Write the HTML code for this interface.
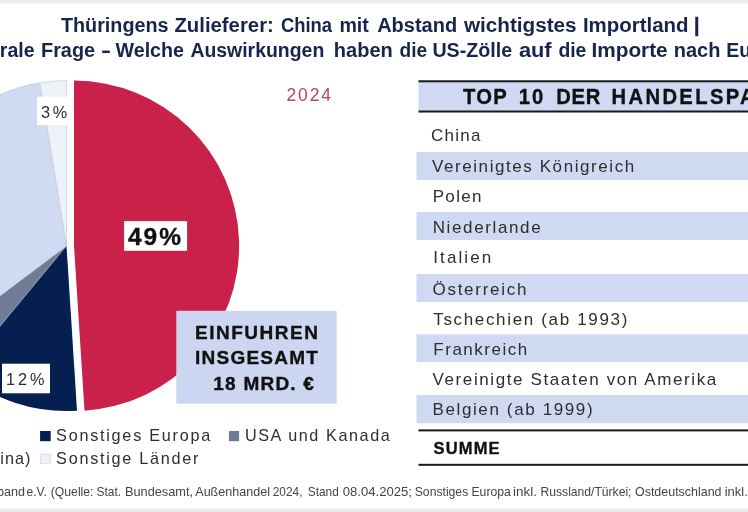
<!DOCTYPE html>
<html lang="de"><head><meta charset="utf-8"><title>Thüringens Zulieferer</title>
<style>
html,body{margin:0;padding:0;background:#fff;}
body{width:748px;height:512px;overflow:hidden;}
svg{display:block;font-family:"Liberation Sans",sans-serif;}
.t{font-weight:bold;fill:#15254b;font-size:19.5px;}
.r{fill:#2e2e2e;font-size:17px;}
.l{fill:#2e2e2e;font-size:16.2px;}
.f{fill:#444;font-size:12.1px;}
.b{font-weight:bold;fill:#111;stroke:#111;stroke-width:0.35px;}
</style></head><body>
<svg width="748" height="512" viewBox="0 0 748 512">
<rect x="0" y="0" width="748" height="512" fill="#ffffff"/>
<defs><linearGradient id="gt" x1="0" y1="0" x2="0" y2="1"><stop offset="0" stop-color="#ebebeb"/><stop offset="0.5" stop-color="#ebebeb"/><stop offset="1" stop-color="#ffffff"/></linearGradient>
<linearGradient id="gb" x1="0" y1="0" x2="0" y2="1"><stop offset="0" stop-color="#ffffff"/><stop offset="0.45" stop-color="#ebebeb"/><stop offset="1" stop-color="#ebebeb"/></linearGradient></defs>
<rect x="0" y="0" width="748" height="4.4" fill="url(#gt)"/>
<rect x="0" y="507.4" width="748" height="4.6" fill="url(#gb)"/>

<text class="t" y="31.6"><tspan x="60.90" textLength="107.70" lengthAdjust="spacingAndGlyphs">Thüringens</tspan> <tspan x="174.40" textLength="99.45" lengthAdjust="spacingAndGlyphs">Zulieferer:</tspan> <tspan x="280.90" textLength="51.20" lengthAdjust="spacingAndGlyphs">China</tspan> <tspan x="339.40" textLength="29.45" lengthAdjust="spacingAndGlyphs">mit</tspan> <tspan x="377.15" textLength="79.95" lengthAdjust="spacingAndGlyphs">Abstand</tspan> <tspan x="463.90" textLength="112.70" lengthAdjust="spacingAndGlyphs">wichtigstes</tspan> <tspan x="582.90" textLength="105.70" lengthAdjust="spacingAndGlyphs">Importland</tspan></text>
<text class="t" x="694.0" y="32.4" font-size="22px" stroke="#15254b" stroke-width="0.5">|</text>
<text class="t" y="56.6"><tspan x="-41.30">Zentrale</tspan> <tspan x="41.00" textLength="54.10" lengthAdjust="spacingAndGlyphs">Frage</tspan> <tspan x="101.10" textLength="10.00" lengthAdjust="spacingAndGlyphs">-</tspan> <tspan x="115.50" textLength="68.50" lengthAdjust="spacingAndGlyphs">Welche</tspan> <tspan x="190.40" textLength="133.90" lengthAdjust="spacingAndGlyphs">Auswirkungen</tspan> <tspan x="333.80" textLength="59.00" lengthAdjust="spacingAndGlyphs">haben</tspan> <tspan x="399.60" textLength="27.70" lengthAdjust="spacingAndGlyphs">die</tspan> <tspan x="432.40" textLength="79.80" lengthAdjust="spacingAndGlyphs">US-Zölle</tspan> <tspan x="518.90" textLength="32.70" lengthAdjust="spacingAndGlyphs">auf</tspan> <tspan x="558.40" textLength="28.00" lengthAdjust="spacingAndGlyphs">die</tspan> <tspan x="591.50" textLength="76.10" lengthAdjust="spacingAndGlyphs">Importe</tspan> <tspan x="673.70" textLength="46.70" lengthAdjust="spacingAndGlyphs">nach</tspan> <tspan x="726.20">Europa?</tspan></text>
<g>
<path d="M66.50 245.80 L77.02 410.66 A165.2 165.2 0 0 1 -38.80 373.09 Z" fill="#061f51" />
<path d="M66.50 245.80 L-38.80 373.09 A165.2 165.2 0 0 1 -65.52 345.10 Z" fill="#6e7c96" stroke="#aab4cc" stroke-width="0.5"/>
<path d="M66.50 245.80 L-65.52 345.10 A165.2 165.2 0 0 1 39.80 82.77 Z" fill="#d0daf2" stroke="#c3c9d8" stroke-width="0.7"/>
<path d="M66.50 245.80 L39.80 82.77 A165.2 165.2 0 0 1 66.50 80.60 Z" fill="#edf1f9" stroke="#c9ccd3" stroke-width="0.7"/>
<path d="M74.00 245.80 L74.00 80.60 A165.2 165.2 0 0 1 84.52 410.66 Z" fill="#c9214a" />
</g>
<text x="286.5" y="101.4" font-size="17.5px" fill="#b3446a" textLength="44.5" lengthAdjust="spacing">2024</text>
<rect x="37" y="96.7" width="33.2" height="28.4" fill="#fff"/>
<text x="40.9" y="117.6" font-size="16.3px" fill="#2e2e2e" textLength="26.4" lengthAdjust="spacing">3%</text>
<rect x="124.1" y="221.1" width="63" height="29.7" fill="#fff"/>
<text class="b" x="128.0" y="244.9" font-size="24.5px" stroke-width="0.15" textLength="53" lengthAdjust="spacing">49%</text>
<rect x="2" y="363.7" width="48" height="29.6" fill="#fff"/>
<text x="6.1" y="385.2" font-size="16.3px" fill="#2e2e2e" textLength="38.3" lengthAdjust="spacing">12%</text>
<rect x="176.3" y="310.8" width="160.4" height="92.9" fill="#ccd6f0"/>
<text class="b" x="195" y="338.5" font-size="19px" textLength="122.9" lengthAdjust="spacing">EINFUHREN</text>
<text class="b" x="195" y="364" font-size="19px" textLength="122.9" lengthAdjust="spacing">INSGESAMT</text>
<text class="b" x="213.3" y="389.9" font-size="19px" textLength="100.6" lengthAdjust="spacing">18 MRD. €</text>
<rect x="40.1" y="431" width="10.6" height="10.2" fill="#061f51"/>
<text class="l" x="56.1" y="441.2" textLength="154.1" lengthAdjust="spacing">Sonstiges Europa</text>
<rect x="228.9" y="431" width="10.2" height="10.2" fill="#6e7c96"/>
<text class="l" x="244.9" y="441.2" textLength="144.9" lengthAdjust="spacing">USA und Kanada</text>
<text class="l" x="-22.4" y="463.7" letter-spacing="1.0">China)</text>
<rect x="40.4" y="454" width="10.2" height="9.6" fill="#edf1f9" stroke="#d4d7de" stroke-width="0.7"/>
<text class="l" x="56.1" y="463.7" textLength="142.3" lengthAdjust="spacing">Sonstige Länder</text>
<rect x="418.5" y="80.5" width="330" height="32" fill="#d0d9f2"/>
<rect x="418.5" y="80.3" width="330" height="2" fill="#1a1a1a"/>
<rect x="418.5" y="110.5" width="330" height="2" fill="#1a1a1a"/>
<g transform="scale(0.94 1)"><text class="b" y="104" font-size="21.5px"><tspan x="492.55" textLength="46.49" lengthAdjust="spacing">TOP</tspan> <tspan x="551.91" textLength="25.96" lengthAdjust="spacing">10</tspan> <tspan x="591.81" textLength="46.91" lengthAdjust="spacing">DER</tspan> <tspan x="650.64" textLength="238.72" lengthAdjust="spacing">HANDELSPARTNER</tspan></text></g>
<text class="r" x="431.0" y="141.2" textLength="49.5" lengthAdjust="spacing">China</text>
<rect x="416.5" y="152" width="332" height="28.0" fill="#d0d9f2"/>
<text class="r" x="432.0" y="172.1" textLength="202.2" lengthAdjust="spacing">Vereinigtes Königreich</text>
<text class="r" x="432.7" y="202.1" textLength="48.8" lengthAdjust="spacing">Polen</text>
<rect x="416.5" y="212" width="332" height="28.0" fill="#d0d9f2"/>
<text class="r" x="432.7" y="232.6" textLength="107.9" lengthAdjust="spacing">Niederlande</text>
<text class="r" x="433.3" y="263.3" textLength="57.9" lengthAdjust="spacing">Italien</text>
<rect x="416.5" y="274" width="332" height="28.0" fill="#d0d9f2"/>
<text class="r" x="432.5" y="294.5" textLength="93.9" lengthAdjust="spacing">Österreich</text>
<text class="r" x="433.3" y="324.9" textLength="194.0" lengthAdjust="spacing">Tschechien (ab 1993)</text>
<rect x="416.5" y="334.3" width="332" height="27.7" fill="#d0d9f2"/>
<text class="r" x="433.3" y="354.5" textLength="94.0" lengthAdjust="spacing">Frankreich</text>
<text class="r" x="432.5" y="385.3" textLength="283.8" lengthAdjust="spacing">Vereinigte Staaten von Amerika</text>
<rect x="416.5" y="395" width="332" height="28.3" fill="#d0d9f2"/>
<text class="r" x="432.5" y="415.0" textLength="160.1" lengthAdjust="spacing">Belgien (ab 1999)</text>
<rect x="418.5" y="429.4" width="330" height="2" fill="#1a1a1a"/>
<rect x="418.5" y="463.8" width="330" height="2" fill="#1a1a1a"/>
<text class="b" x="433.6" y="453.8" font-size="16.5px" textLength="66" lengthAdjust="spacing">SUMME</text>
<text class="f" y="496.3"><tspan x="-3.00" textLength="28.00" lengthAdjust="spacingAndGlyphs">band</tspan> <tspan x="26.50" textLength="20.25" lengthAdjust="spacingAndGlyphs">e.V.</tspan> <tspan x="50.75" textLength="42.75" lengthAdjust="spacingAndGlyphs">(Quelle:</tspan> <tspan x="96.50" textLength="24.50" lengthAdjust="spacingAndGlyphs">Stat.</tspan> <tspan x="125.00" textLength="68.00" lengthAdjust="spacingAndGlyphs">Bundesamt,</tspan> <tspan x="195.25" textLength="74.75" lengthAdjust="spacingAndGlyphs">Außenhandel</tspan> <tspan x="272.75" textLength="29.75" lengthAdjust="spacingAndGlyphs">2024,</tspan> <tspan x="307.75" textLength="31.00" lengthAdjust="spacingAndGlyphs">Stand</tspan> <tspan x="342.75" textLength="69.25" lengthAdjust="spacingAndGlyphs">08.04.2025;</tspan> <tspan x="414.75" textLength="53.50" lengthAdjust="spacingAndGlyphs">Sonstiges</tspan> <tspan x="471.50" textLength="39.25" lengthAdjust="spacingAndGlyphs">Europa</tspan> <tspan x="513.00" textLength="24.00" lengthAdjust="spacingAndGlyphs">inkl.</tspan> <tspan x="540.50" textLength="91.00" lengthAdjust="spacingAndGlyphs">Russland/Türkei;</tspan> <tspan x="635.00" textLength="86.50" lengthAdjust="spacingAndGlyphs">Ostdeutschland</tspan> <tspan x="724.75" textLength="23.00" lengthAdjust="spacingAndGlyphs">inkl.</tspan></text>
</svg></body></html>
